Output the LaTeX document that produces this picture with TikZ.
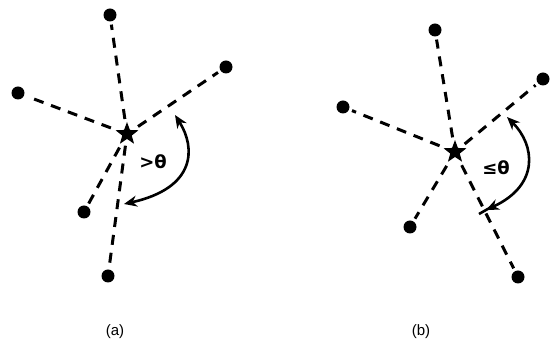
\documentclass[tikz,border=0pt]{standalone}
\usepackage{fontspec}
\setmainfont{Liberation Sans}
\newfontfamily\symfont{DejaVu Sans}
\usetikzlibrary{shapes.geometric,arrows.meta}
\tikzset{
  dot/.style={circle,fill=black,inner sep=0pt,minimum size=13pt},
  hub/.style={star,star points=5,star point ratio=2.4,fill=black,inner sep=0pt,minimum size=24pt},
  edge/.style={line width=3pt,dash pattern=on 10pt off 8pt,shorten <=6pt,shorten >=3pt},
  turn/.style={line width=2.6pt,{Stealth[length=13pt,width=11pt]}-{Stealth[length=13pt,width=11pt]}},
  angl/.style={font=\symfont\bfseries\fontsize{18}{18}\selectfont},
  captext/.style={font=\fontsize{15}{15}\selectfont}
}
\begin{document}
\begin{tikzpicture}[x=1pt,y=-1pt]
\useasboundingbox (0,0) rectangle (550,355);
% panel (a)
\node[hub] (ca) at (127,134) {};
\node[dot] (a1) at (110,15) {};
\node[dot] (a2) at (226,67) {};
\node[dot] (a3) at (18,93) {};
\node[dot] (a4) at (84,212) {};
\node[dot] (a5) at (108,276) {};
\foreach \n in {a1,a2,a3,a4,a5} \draw[edge] (ca) -- (\n);
\coordinate (at) at (175,115);
\coordinate (ab) at (124,204);
\draw[turn] (at) .. controls (196,148) and (196,188) .. (ab);
\node[angl] (la) at (153,162) {>θ};
\node[captext] (capa) at (115,332) {(a)};
% panel (b)
\node[hub] (cb) at (455,152) {};
\node[dot] (b1) at (435,30) {};
\node[dot] (b2) at (543,79) {};
\node[dot] (b3) at (343,107) {};
\node[dot] (b4) at (410,227) {};
\node[dot] (b5) at (518,277) {};
\foreach \n in {b1,b2,b3,b4,b5} \draw[edge] (cb) -- (\n);
\coordinate (bt) at (507,117);
\coordinate (bb) at (486,210);
\draw[turn] (bt) .. controls (535,145) and (540,185) .. (bb);
\coordinate (tk1) at (479,214);
\coordinate (tk2) at (493,206);
\draw[line width=2.6pt] (tk1) -- (tk2);
\node[angl] (lb) at (496,168) {≤θ};
\node[captext] (capb) at (421,332) {(b)};
\end{tikzpicture}
\end{document}
